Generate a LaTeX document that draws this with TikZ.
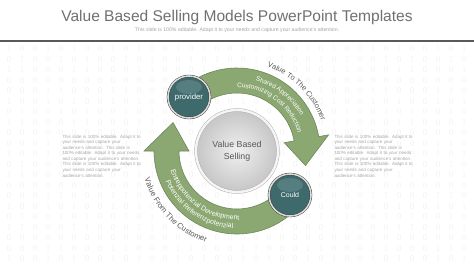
\documentclass[tikz,border=0pt]{standalone}
\usepackage{fontspec}
\setmainfont{Liberation Sans}
\newfontfamily\digitfont{Liberation Serif}
\usepackage{tikz}
\usetikzlibrary{positioning, calc, decorations.text, shadings}
\definecolor{titlegray}{RGB}{112,112,112}
\definecolor{notegray}{RGB}{165,165,165}
\definecolor{bandgreen}{RGB}{139,167,114}
\definecolor{bandedge}{RGB}{110,136,90}
\definecolor{darkteal}{RGB}{62,106,108}
\definecolor{hubtext}{RGB}{88,88,88}
\definecolor{digitgray}{RGB}{242,242,242}

\newcommand{\spread}[1]{\makebox[79bp][s]{#1}}

\begin{document}
\begin{tikzpicture}[x=1bp, y=1bp,
    band/.style={fill=bandgreen, draw=bandedge, line width=0.6bp},
    hub/.style={circle, minimum size=82bp, inner sep=0pt, draw=gray!60, line width=0.5bp,
        double=gray!8, double distance=2.4bp, inner color=gray!12, outer color=gray!45,
        align=center, text=hubtext, font=\fontsize{8.8}{12}\selectfont},
    stage/.style={circle, minimum size=42bp, inner sep=0pt, fill=darkteal, draw=gray!40!black,
        line width=0.4bp, double=gray!30, double distance=1.6bp, text=white},
    gloss/.style={white, opacity=0.13},
    note/.style={text width=79bp, align=left, inner sep=0pt, text=notegray,
        font=\fontsize{4.5}{5.6}\selectfont},
    digit/.style={inner sep=0pt, text=digitgray, font=\digitfont\fontsize{9}{9}\selectfont}
]
    \path[use as bounding box] (0,0) rectangle (474,266);

    % Header
    \node[font=\fontsize{15.6}{18}\selectfont, text=titlegray] (title) at (237,249)
        {Value Based Selling Models PowerPoint Templates};
    \node[font=\fontsize{5.2}{6}\selectfont, text=notegray] (subtitle) at (237,236)
        {This slide is 100\% editable. Adapt it to your needs and capture your audience's attention.};
    \coordinate (l0) at (0,225);
    \coordinate (l1) at (474,225);
    \draw[line width=1.5bp, gray!70!black] (l0) -- (l1);

    % Binary background
    \foreach \r in {0,...,20}
        \foreach \c in {0,...,35} {
            \pgfmathtruncatemacro\bit{mod(\c*7+\r*3+\c*\r,5)<2}
            \node[digit] (d\r-\c) at (9+13*\c, 217-10.5*\r) {\bit};
        }

    \coordinate (C) at (237,115);

    % Green arrows
    \draw[band] ($(C)+(125:83)$) arc[start angle=125, end angle=10, radius=83]
        -- ($(C)+(10:93)$) -- ($(C)+(-12:70)$) -- ($(C)+(10:48)$) -- ($(C)+(10:58)$)
        arc[start angle=10, end angle=125, radius=58] -- cycle;
    \draw[band] ($(C)+(-50:83)$) arc[start angle=-50, end angle=-180, radius=83]
        -- ($(C)+(180:93)$) -- ($(C)+(156:70)$) -- ($(C)+(180:48)$) -- ($(C)+(180:58)$)
        arc[start angle=-180, end angle=-50, radius=58] -- cycle;

    % Texts along the arrows
    \path[decorate, decoration={text along path, text align=center,
        text={|\color{hubtext}\fontsize{7.5}{9}\selectfont|Value To The Customer}}]
        ($(C)+(105:89.5)$) arc[start angle=105, end angle=-15, radius=89.5];
    \path[decorate, decoration={text along path, text align=center,
        text={|\color{white}\fontsize{6.5}{8}\selectfont|Shared Appreciation}}]
        ($(C)+(112:72.5)$) arc[start angle=112, end angle=-8, radius=72.5];
    \path[decorate, decoration={text along path, text align=center,
        text={|\color{white}\fontsize{6.5}{8}\selectfont|Customizing Cost Reduction}}]
        ($(C)+(113:63.5)$) arc[start angle=113, end angle=-7, radius=63.5];
    \path[decorate, decoration={text along path, text align=center,
        text={|\color{hubtext}\fontsize{7.8}{9}\selectfont|Value From The Customer}}]
        ($(C)+(164:96.5)$) arc[start angle=164, end angle=284, radius=96.5];
    \path[decorate, decoration={text along path, text align=center,
        text={|\color{white}\fontsize{7}{8}\selectfont|Entreppotenzial Development}}]
        ($(C)+(174:69)$) arc[start angle=174, end angle=294, radius=69];
    \path[decorate, decoration={text along path, text align=center,
        text={|\color{white}\fontsize{7}{8}\selectfont|Potenzial Referenzpotenzial}}]
        ($(C)+(175:77.5)$) arc[start angle=175, end angle=295, radius=77.5];

    % Circles
    \node[hub] (hub) at (C) {Value Based\\Selling};
    \node[stage, font=\fontsize{7.8}{9}\selectfont] (provider) at (189,169) {provider};
    \node[stage, font=\fontsize{7}{9}\selectfont] (could) at (290,71) {Could};
    \fill[gloss] ($(provider)+(0,10)$) ellipse (13 and 7);
    \fill[gloss] ($(could)+(0,10)$) ellipse (13 and 7);

    % Side notes
    \node[note] (leftnote) at (102,110) {\spread{This slide is 100\% editable. Adapt it to}\\
        \spread{your needs and capture your}\\ \spread{audience's attention. This slide is}\\
        \spread{100\% editable. Adapt it to your needs}\\ \spread{and capture your audience's attention.}\\
        \spread{This slide is 100\% editable. Adapt it to}\\ \spread{your needs and capture your}\\
        audience's attention.};
    \node[note] (rightnote) at (374,110) {\spread{This slide is 100\% editable. Adapt it to}\\
        \spread{your needs and capture your}\\ \spread{audience's attention. This slide is}\\
        \spread{100\% editable. Adapt it to your needs}\\ \spread{and capture your audience's attention.}\\
        \spread{This slide is 100\% editable. Adapt it to}\\ \spread{your needs and capture your}\\
        audience's attention.};
\end{tikzpicture}
\end{document}
